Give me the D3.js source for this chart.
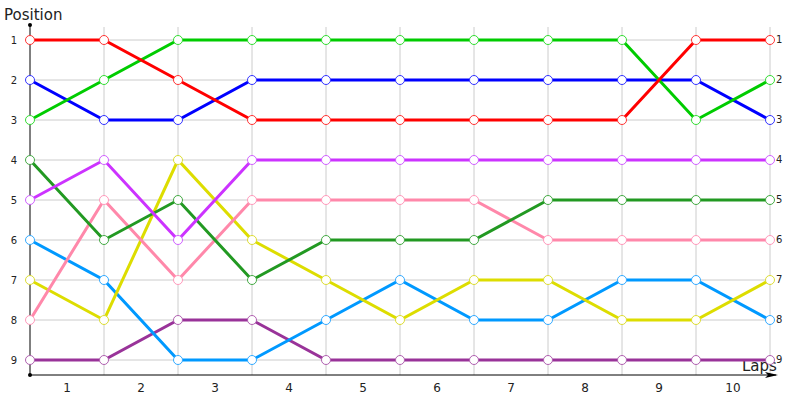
<!DOCTYPE html>
<html>
<head>
<meta charset="utf-8">
<script src="https://cdn.jsdelivr.net/npm/d3@7"></script>
<style>
body { margin: 0; background: #fff; }
text { font-family: "DejaVu Sans", sans-serif; }
</style>
</head>
<body>
<div class="chart"></div>
<script>
var laps = ["1", "2", "3", "4", "5", "6", "7", "8", "9", "10"];
var positions = [1, 2, 3, 4, 5, 6, 7, 8, 9];

var red = [1, 1, 2, 3, 3, 3, 3, 3, 3, 1, 1];
var green = [3, 2, 1, 1, 1, 1, 1, 1, 1, 3, 2];
var blue = [2, 3, 3, 2, 2, 2, 2, 2, 2, 2, 3];
var violet = [5, 4, 6, 4, 4, 4, 4, 4, 4, 4, 4];
var darkGreen = [4, 6, 5, 7, 6, 6, 6, 5, 5, 5, 5];
var pink = [8, 5, 7, 5, 5, 5, 5, 6, 6, 6, 6];
var yellow = [7, 8, 4, 6, 7, 8, 7, 7, 8, 8, 7];
var lightBlue = [6, 7, 9, 9, 8, 7, 8, 8, 7, 7, 8];
var darkPurple = [9, 9, 8, 8, 9, 9, 9, 9, 9, 9, 9];

var series = [
  {values: darkPurple, color: "#993399", mark: "#b060b0"},
  {values: lightBlue, color: "#0099ff", mark: "#33aaff"},
  {values: yellow, color: "#dddd00", mark: "#dddd33"},
  {values: pink, color: "#ff88aa", mark: "#ff99bb"},
  {values: darkGreen, color: "#229922", mark: "#44aa44"},
  {values: violet, color: "#cc33ff", mark: "#d060ff"},
  {values: blue, color: "#0000ff", mark: "#3333ff"},
  {values: green, color: "#00cc00", mark: "#33dd33"},
  {values: red, color: "#ff0000", mark: "#ff3333"}
];

var svg = d3.select(".chart")
  .append("svg")
  .attr("width", 800)
  .attr("height", 400)

var x = d3.scaleLinear().domain([0, 10]).range([30, 770])
var y = d3.scaleLinear().domain([1, 9]).range([40, 360])
var axisY = 375

// grid
svg.append("g")
  .selectAll("line")
  .data(d3.range(1, 11))
  .enter()
  .append("line")
  .attr("x1", d => x(d)).attr("x2", d => x(d))
  .attr("y1", 27).attr("y2", axisY)
  .style("stroke", "#cccccc")

svg.append("g")
  .selectAll("line")
  .data(positions)
  .enter()
  .append("line")
  .attr("x1", x(0)).attr("x2", x(10))
  .attr("y1", d => y(d)).attr("y2", d => y(d))
  .style("stroke", "#cccccc")

// axes
svg.append("line")
  .attr("x1", x(0)).attr("x2", x(0))
  .attr("y1", 25).attr("y2", axisY)
  .style("stroke", "#000")
svg.append("circle").attr("cx", x(0)).attr("cy", 25).attr("r", 2).style("fill", "#000")
svg.append("circle").attr("cx", x(0)).attr("cy", axisY).attr("r", 2).style("fill", "#000")

svg.append("line")
  .attr("x1", x(0)).attr("x2", 776)
  .attr("y1", axisY).attr("y2", axisY)
  .style("stroke", "#000")
svg.append("path")
  .attr("d", "M778," + axisY + " L765," + (axisY - 3) + " L768," + axisY + " L765," + (axisY + 3) + " Z")
  .style("fill", "#000")

svg.append("text").attr("x", 4).attr("y", 20).text("Position").style("font-size", "15px").style("fill", "#222")
svg.append("text").attr("x", 742).attr("y", 371).text("Laps").style("font-size", "15px").style("fill", "#222")

// tick labels
svg.append("g")
  .selectAll("text")
  .data(positions)
  .enter()
  .append("text")
  .attr("x", 14)
  .attr("y", d => y(d) + 4)
  .attr("text-anchor", "middle")
  .text(d => d)
  .style("font-size", "10px")
  .style("fill", "#222")

svg.append("g")
  .selectAll("text")
  .data(positions)
  .enter()
  .append("text")
  .attr("x", 776)
  .attr("y", d => y(d) + 3)
  .text(d => d)
  .style("font-size", "10px")
  .style("fill", "#222")

svg.append("g")
  .selectAll("text")
  .data(laps)
  .enter()
  .append("text")
  .attr("x", (d, i) => x(i + 0.5))
  .attr("y", 392)
  .attr("text-anchor", "middle")
  .text(d => d)
  .style("font-size", "12px")
  .style("fill", "#222")

// lines
var line = d3.line().x((d, i) => x(i)).y(d => y(d))

svg.append("g")
  .selectAll("path")
  .data(series)
  .enter()
  .append("path")
  .attr("d", d => line(d.values))
  .style("fill", "none")
  .style("stroke", d => d.color)
  .style("stroke-width", 3)

svg.append("g")
  .selectAll("g")
  .data(series)
  .enter()
  .append("g")
  .each(function(s) {
    d3.select(this).selectAll("circle")
      .data(s.values)
      .enter()
      .append("circle")
      .attr("cx", (d, i) => x(i))
      .attr("cy", d => y(d))
      .attr("r", 4.5)
      .style("fill", "#fff")
      .style("stroke", s.mark)
      .style("stroke-width", 1)
  })
</script>
</body>
</html>
